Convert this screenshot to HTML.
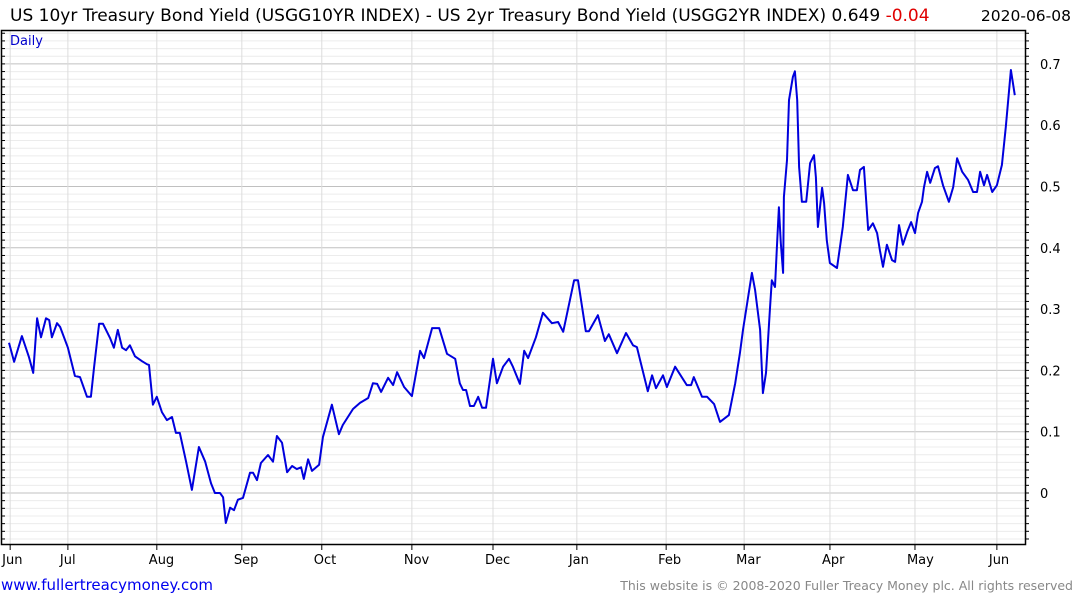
<!DOCTYPE html>
<html><head><meta charset="utf-8"><style>
html,body{margin:0;padding:0;background:#fff;width:1075px;height:600px;overflow:hidden}
svg{display:block}
text{font-family:"DejaVu Sans","Liberation Sans",sans-serif}
</style></head><body>
<svg id="chart" width="1075" height="600" xmlns="http://www.w3.org/2000/svg">
<g id="grid"></g>
<g id="xaxis"></g>
<g id="yaxis"></g>
<path id="line" fill="none" stroke="#0000dd" stroke-width="2" stroke-linejoin="round"></path>
<rect x="1.5" y="30.5" width="1024" height="514" fill="none" stroke="#000" stroke-width="1.5"/>
<text x="10" y="21" font-size="17" fill="#000">US 10yr Treasury Bond Yield (USGG10YR INDEX) - US 2yr Treasury Bond Yield (USGG2YR INDEX) 0.649 <tspan fill="#e00000">-0.04</tspan></text>
<text x="1071" y="21" font-size="15.5" text-anchor="end" fill="#000">2020-06-08</text>
<text x="10" y="45" font-size="13" fill="#0000cc">Daily</text>
<text x="1" y="590" font-size="15" fill="#0000ee">www.fullertreacymoney.com</text>
<text x="1073" y="590" font-size="12.5" text-anchor="end" fill="#888">This website is © 2008-2020 Fuller Treacy Money plc. All rights reserved</text>
</svg>
<script>
const days=[0,1.3,3.3,5.1,6.2,7.2,8.2,9.5,10.3,11.0,12.3,13.1,15.1,16.9,18.2,20.0,21.0,21.8,23.1,24.1,25.9,26.9,27.9,29.0,30.0,31.0,32.3,34.1,35.4,35.9,36.9,37.9,39.2,40.5,41.8,42.8,43.8,45.4,46.9,48.7,50.3,51.8,52.8,54.1,54.9,55.6,56.7,57.7,58.7,60.0,61.8,62.6,63.6,64.6,66.4,67.7,68.7,70.0,71.3,72.6,73.8,74.9,75.6,76.7,77.7,79.5,80.5,81.5,82.8,84.6,85.6,88.2,90.0,92.1,93.3,94.4,95.4,97.2,98.5,99.5,101.3,103.3,105.4,106.4,108.5,110.3,112.3,114.4,115.6,116.4,117.2,118.2,119.2,120.3,121.3,122.3,124.1,125.1,126.7,128.2,129.2,131.0,132.1,133.1,135.1,136.9,139.2,140.8,142.1,144.9,145.9,147.9,148.7,151.0,152.8,153.8,155.9,158.2,160.0,161.0,163.8,164.9,165.9,167.7,168.7,170.8,173.8,174.9,175.6,177.7,179.0,180.8,182.3,184.6,186.2,187.4,188.2,190.5,191.3,192.6,193.3,194.1,195.1,195.6,196.4,196.9,197.4,197.9,198.5,198.7,199.5,200.0,201.0,201.5,202.1,202.6,203.3,204.4,205.4,206.4,206.9,207.4,208.5,209.0,209.7,210.5,212.3,213.8,215.1,216.4,217.4,218.2,219.2,220.0,220.3,221.5,222.6,223.3,224.1,225.1,226.4,227.2,228.2,229.2,230.3,231.3,232.3,233.1,234.1,234.6,235.4,236.2,237.4,238.2,239.5,241.0,242.1,243.1,244.4,245.9,247.2,248.2,249.0,250.0,250.8,252.1,253.3,254.6,255.6,256.9,257.9];
const yields=[.245,.214,.256,.222,.196,.285,.254,.285,.282,.254,.277,.271,.237,.191,.189,.157,.157,.204,.276,.276,.253,.237,.266,.237,.233,.241,.223,.215,.210,.209,.144,.157,.132,.119,.124,.098,.098,.051,.005,.075,.051,.016,0,0,-.007,-.049,-.024,-.028,-.011,-.008,.033,.033,.021,.049,.062,.051,.093,.082,.034,.044,.039,.042,.023,.055,.036,.046,.091,.114,.144,.096,.111,.137,.147,.155,.179,.178,.165,.188,.176,.197,.173,.158,.232,.220,.269,.269,.227,.219,.179,.168,.168,.142,.142,.157,.139,.139,.219,.179,.206,.219,.206,.178,.232,.220,.254,.294,.277,.279,.263,.347,.347,.264,.264,.290,.248,.259,.228,.261,.241,.238,.166,.192,.171,.192,.173,.206,.176,.176,.189,.157,.157,.145,.116,.127,.179,.228,.266,.359,.331,.266,.163,.196,.299,.347,.336,.401,.466,.408,.359,.483,.543,.641,.679,.688,.641,.532,.475,.475,.538,.551,.515,.434,.498,.473,.412,.375,.367,.434,.519,.494,.494,.527,.532,.457,.429,.440,.424,.396,.369,.405,.380,.377,.437,.405,.426,.442,.424,.457,.475,.498,.524,.506,.530,.533,.502,.475,.499,.546,.524,.511,.491,.491,.524,.502,.519,.491,.502,.535,.597,.690,.649];
const monthLabels=["Jun","Jul","Aug","Sep","Oct","Nov","Dec","Jan","Feb","Mar","Apr","May","Jun"];
const monthDays=[0.3,15.1,37.9,59.7,80.2,103.3,124.1,145.6,168.5,188.5,210.5,232.3,253.3];
const yTicks=[0,0.1,0.2,0.3,0.4,0.5,0.6,0.7];
const yTickLabels=["0","0.1","0.2","0.3","0.4","0.5","0.6","0.7"];
const NS="http://www.w3.org/2000/svg";
const xS=d=>9+d*3.9;
const yS=v=>493-v*613;
function mk(tag,attrs,parent){const e=document.createElementNS(NS,tag);for(const k in attrs)e.setAttribute(k,attrs[k]);parent.appendChild(e);return e;}
const grid=document.getElementById('grid'),xa=document.getElementById('xaxis'),ya=document.getElementById('yaxis');
for(let v=-0.075;v<=0.75;v+=0.0125){const y=yS(v);if(y<31||y>544)continue;
 const major=Math.abs(v*10-Math.round(v*10))<1e-6;
 const l=mk('line',{x1:2,x2:1025,y1:y,y2:y,stroke:major?'#c0c0c0':'#ececec','stroke-width':1},grid);
 
 
 const t=mk('line',{x1:1,x2:5,y1:y,y2:y,stroke:'#000','stroke-width':1},ya);
 
 
 const t2=mk('line',{x1:1025,x2:1029,y1:y,y2:y,stroke:'#000','stroke-width':1},ya);
 
 
}
yTicks.forEach((v,i)=>{const y=yS(v);
 const t=mk('text',{x:1040,y:y+5,'font-size':13,fill:'#000'},ya);t.textContent=yTickLabels[i];
 
 
});
monthDays.forEach((d,i)=>{const x=xS(d);
 const g=mk('line',{x1:x,x2:x,y1:31,y2:544,stroke:'#dcdcdc','stroke-width':1},grid);
 
 
 const tk=mk('line',{x1:x,x2:x,y1:544,y2:550,stroke:'#000','stroke-width':1},xa);
 
 
 const t=mk('text',{x:x-8,y:564,'font-size':13,fill:'#000'},xa);t.textContent=monthLabels[i];
 
 
});
document.getElementById('line').setAttribute('d',days.map((d,i)=>(i?'L':'M')+xS(d).toFixed(1)+','+yS(yields[i]).toFixed(1)).join(''));
</script>
</body></html>
